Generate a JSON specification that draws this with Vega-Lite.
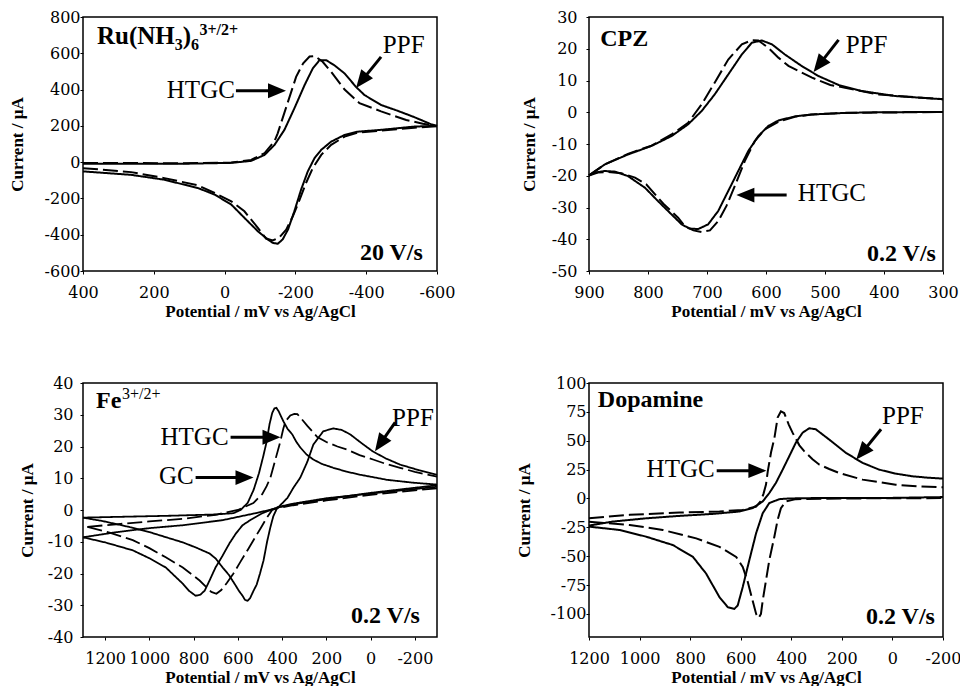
{
"$schema":"https://vega.github.io/schema/vega-lite/v6.json",
"background":"white",
"padding":{"left":7,"top":8,"right":0,"bottom":0},
"columns":2,
"spacing":{"row":112,"column":152},
"bounds":"flush",
"config":{"font":"Liberation Serif","view":{"stroke":"black","strokeWidth":1.5},
"axis":{"domain":false,"grid":false,"tickColor":"black","tickSize":3,"labelColor":"black","labelFont":"DejaVu Serif","labelFontSize":16,"titleFont":"Liberation Serif","titleFontSize":17,"titleFontWeight":"bold","titleColor":"black","labelFlush":false,"labelOverlap":false},
"axisX":{"labelPadding":10,"titlePadding":3}},
"datasets":{
"ru":[
{"curve":"PPF","branch":"f","E":400,"I":-9},{"curve":"PPF","branch":"f","E":264,"I":-9},{"curve":"PPF","branch":"f","E":122,"I":-9},{"curve":"PPF","branch":"f","E":-19,"I":-4},{"curve":"PPF","branch":"f","E":-75,"I":7},{"curve":"PPF","branch":"f","E":-113,"I":40},{"curve":"PPF","branch":"f","E":-141,"I":95},{"curve":"PPF","branch":"f","E":-169,"I":178},{"curve":"PPF","branch":"f","E":-197,"I":296},{"curve":"PPF","branch":"f","E":-226,"I":425},{"curve":"PPF","branch":"f","E":-249,"I":516},{"curve":"PPF","branch":"f","E":-268,"I":562},{"curve":"PPF","branch":"f","E":-287,"I":562},{"curve":"PPF","branch":"f","E":-310,"I":534},{"curve":"PPF","branch":"f","E":-339,"I":489},{"curve":"PPF","branch":"f","E":-371,"I":415},{"curve":"PPF","branch":"f","E":-395,"I":370},{"curve":"PPF","branch":"f","E":-442,"I":315},{"curve":"PPF","branch":"f","E":-489,"I":283},{"curve":"PPF","branch":"f","E":-536,"I":248},{"curve":"PPF","branch":"f","E":-583,"I":209},{"curve":"PPF","branch":"f","E":-600,"I":200},
{"curve":"PPF","branch":"r","E":-600,"I":200},{"curve":"PPF","branch":"r","E":-536,"I":196},{"curve":"PPF","branch":"r","E":-442,"I":178},{"curve":"PPF","branch":"r","E":-376,"I":168},{"curve":"PPF","branch":"r","E":-339,"I":150},{"curve":"PPF","branch":"r","E":-301,"I":113},{"curve":"PPF","branch":"r","E":-273,"I":68},{"curve":"PPF","branch":"r","E":-254,"I":22},{"curve":"PPF","branch":"r","E":-235,"I":-51},{"curve":"PPF","branch":"r","E":-216,"I":-152},{"curve":"PPF","branch":"r","E":-197,"I":-271},{"curve":"PPF","branch":"r","E":-179,"I":-372},{"curve":"PPF","branch":"r","E":-164,"I":-426},{"curve":"PPF","branch":"r","E":-150,"I":-450},{"curve":"PPF","branch":"r","E":-136,"I":-445},{"curve":"PPF","branch":"r","E":-122,"I":-426},{"curve":"PPF","branch":"r","E":-94,"I":-381},{"curve":"PPF","branch":"r","E":-56,"I":-307},{"curve":"PPF","branch":"r","E":-19,"I":-234},{"curve":"PPF","branch":"r","E":28,"I":-179},{"curve":"PPF","branch":"r","E":75,"I":-143},{"curve":"PPF","branch":"r","E":170,"I":-97},{"curve":"PPF","branch":"r","E":264,"I":-70},{"curve":"PPF","branch":"r","E":400,"I":-51},
{"curve":"HTGC","branch":"f","E":400,"I":-5},{"curve":"HTGC","branch":"f","E":264,"I":-5},{"curve":"HTGC","branch":"f","E":122,"I":-6},{"curve":"HTGC","branch":"f","E":-19,"I":-2},{"curve":"HTGC","branch":"f","E":-75,"I":12},{"curve":"HTGC","branch":"f","E":-113,"I":50},{"curve":"HTGC","branch":"f","E":-141,"I":115},{"curve":"HTGC","branch":"f","E":-150,"I":159},{"curve":"HTGC","branch":"f","E":-176,"I":315},{"curve":"HTGC","branch":"f","E":-202,"I":470},{"curve":"HTGC","branch":"f","E":-222,"I":545},{"curve":"HTGC","branch":"f","E":-240,"I":582},{"curve":"HTGC","branch":"f","E":-255,"I":585},{"curve":"HTGC","branch":"f","E":-277,"I":553},{"curve":"HTGC","branch":"f","E":-300,"I":500},{"curve":"HTGC","branch":"f","E":-339,"I":400},{"curve":"HTGC","branch":"f","E":-381,"I":325},{"curve":"HTGC","branch":"f","E":-442,"I":280},{"curve":"HTGC","branch":"f","E":-513,"I":232},{"curve":"HTGC","branch":"f","E":-560,"I":212},{"curve":"HTGC","branch":"f","E":-600,"I":198},
{"curve":"HTGC","branch":"r","E":-600,"I":198},{"curve":"HTGC","branch":"r","E":-536,"I":190},{"curve":"HTGC","branch":"r","E":-442,"I":174},{"curve":"HTGC","branch":"r","E":-376,"I":163},{"curve":"HTGC","branch":"r","E":-339,"I":141},{"curve":"HTGC","branch":"r","E":-301,"I":95},{"curve":"HTGC","branch":"r","E":-273,"I":40},{"curve":"HTGC","branch":"r","E":-249,"I":-33},{"curve":"HTGC","branch":"r","E":-230,"I":-115},{"curve":"HTGC","branch":"r","E":-212,"I":-207},{"curve":"HTGC","branch":"r","E":-193,"I":-298},{"curve":"HTGC","branch":"r","E":-174,"I":-372},{"curve":"HTGC","branch":"r","E":-155,"I":-414},{"curve":"HTGC","branch":"r","E":-136,"I":-432},{"curve":"HTGC","branch":"r","E":-117,"I":-421},{"curve":"HTGC","branch":"r","E":-94,"I":-362},{"curve":"HTGC","branch":"r","E":-56,"I":-271},{"curve":"HTGC","branch":"r","E":-19,"I":-216},{"curve":"HTGC","branch":"r","E":28,"I":-170},{"curve":"HTGC","branch":"r","E":75,"I":-128},{"curve":"HTGC","branch":"r","E":170,"I":-88},{"curve":"HTGC","branch":"r","E":264,"I":-55},{"curve":"HTGC","branch":"r","E":400,"I":-33}
],
"cpz":[
{"curve":"PPF","branch":"f","E":900,"I":-19.9},{"curve":"PPF","branch":"f","E":873,"I":-16.4},{"curve":"PPF","branch":"f","E":834,"I":-13.3},{"curve":"PPF","branch":"f","E":794,"I":-10.6},{"curve":"PPF","branch":"f","E":760,"I":-7.5},{"curve":"PPF","branch":"f","E":732,"I":-3.8},{"curve":"PPF","branch":"f","E":709,"I":0.4},{"curve":"PPF","branch":"f","E":687,"I":5.6},{"curve":"PPF","branch":"f","E":664,"I":11.9},{"curve":"PPF","branch":"f","E":641,"I":18.2},{"curve":"PPF","branch":"f","E":624,"I":21.9},{"curve":"PPF","branch":"f","E":607,"I":22.6},{"curve":"PPF","branch":"f","E":590,"I":21.4},{"curve":"PPF","branch":"f","E":568,"I":18.2},{"curve":"PPF","branch":"f","E":539,"I":14.5},{"curve":"PPF","branch":"f","E":511,"I":11.4},{"curve":"PPF","branch":"f","E":477,"I":8.6},{"curve":"PPF","branch":"f","E":438,"I":6.7},{"curve":"PPF","branch":"f","E":381,"I":5.1},{"curve":"PPF","branch":"f","E":300,"I":4.1},
{"curve":"PPF","branch":"r","E":300,"I":0.1},{"curve":"PPF","branch":"r","E":409,"I":0},{"curve":"PPF","branch":"r","E":466,"I":-0.2},{"curve":"PPF","branch":"r","E":522,"I":-0.7},{"curve":"PPF","branch":"r","E":551,"I":-1.3},{"curve":"PPF","branch":"r","E":579,"I":-2.6},{"curve":"PPF","branch":"r","E":596,"I":-4.3},{"curve":"PPF","branch":"r","E":613,"I":-7.5},{"curve":"PPF","branch":"r","E":630,"I":-12.2},{"curve":"PPF","branch":"r","E":647,"I":-18.5},{"curve":"PPF","branch":"r","E":664,"I":-24.8},{"curve":"PPF","branch":"r","E":681,"I":-31.1},{"curve":"PPF","branch":"r","E":698,"I":-35.3},{"curve":"PPF","branch":"r","E":715,"I":-36.8},{"curve":"PPF","branch":"r","E":730,"I":-36.6},{"curve":"PPF","branch":"r","E":743,"I":-35.3},{"curve":"PPF","branch":"r","E":760,"I":-32.2},{"curve":"PPF","branch":"r","E":783,"I":-28.0},{"curve":"PPF","branch":"r","E":805,"I":-23.8},{"curve":"PPF","branch":"r","E":834,"I":-20.1},{"curve":"PPF","branch":"r","E":856,"I":-18.7},{"curve":"PPF","branch":"r","E":873,"I":-18.5},{"curve":"PPF","branch":"r","E":890,"I":-19.0},{"curve":"PPF","branch":"r","E":900,"I":-19.9},
{"curve":"HTGC","branch":"f","E":900,"I":-19.9},{"curve":"HTGC","branch":"f","E":873,"I":-16.4},{"curve":"HTGC","branch":"f","E":834,"I":-13.1},{"curve":"HTGC","branch":"f","E":794,"I":-10.5},{"curve":"HTGC","branch":"f","E":760,"I":-7.0},{"curve":"HTGC","branch":"f","E":732,"I":-3.3},{"curve":"HTGC","branch":"f","E":709,"I":2.5},{"curve":"HTGC","branch":"f","E":687,"I":9.3},{"curve":"HTGC","branch":"f","E":664,"I":16.6},{"curve":"HTGC","branch":"f","E":641,"I":21.4},{"curve":"HTGC","branch":"f","E":624,"I":22.7},{"curve":"HTGC","branch":"f","E":613,"I":22.6},{"curve":"HTGC","branch":"f","E":596,"I":20.3},{"curve":"HTGC","branch":"f","E":579,"I":17.2},{"curve":"HTGC","branch":"f","E":562,"I":14.6},{"curve":"HTGC","branch":"f","E":522,"I":10.9},{"curve":"HTGC","branch":"f","E":491,"I":8.6},{"curve":"HTGC","branch":"f","E":466,"I":7.7},{"curve":"HTGC","branch":"f","E":409,"I":5.6},{"curve":"HTGC","branch":"f","E":300,"I":4.1},
{"curve":"HTGC","branch":"r","E":300,"I":0.1},{"curve":"HTGC","branch":"r","E":466,"I":-0.2},{"curve":"HTGC","branch":"r","E":522,"I":-0.7},{"curve":"HTGC","branch":"r","E":551,"I":-1.4},{"curve":"HTGC","branch":"r","E":579,"I":-3.0},{"curve":"HTGC","branch":"r","E":602,"I":-5.4},{"curve":"HTGC","branch":"r","E":619,"I":-9.1},{"curve":"HTGC","branch":"r","E":636,"I":-15.4},{"curve":"HTGC","branch":"r","E":653,"I":-23.3},{"curve":"HTGC","branch":"r","E":667,"I":-29.5},{"curve":"HTGC","branch":"r","E":681,"I":-34.3},{"curve":"HTGC","branch":"r","E":695,"I":-37.2},{"curve":"HTGC","branch":"r","E":709,"I":-37.7},{"curve":"HTGC","branch":"r","E":723,"I":-37.2},{"curve":"HTGC","branch":"r","E":738,"I":-35.8},{"curve":"HTGC","branch":"r","E":749,"I":-33.2},{"curve":"HTGC","branch":"r","E":774,"I":-28.8},{"curve":"HTGC","branch":"r","E":803,"I":-22.7},{"curve":"HTGC","branch":"r","E":822,"I":-20.6},{"curve":"HTGC","branch":"r","E":845,"I":-19.2},{"curve":"HTGC","branch":"r","E":868,"I":-18.8},{"curve":"HTGC","branch":"r","E":885,"I":-19.0},{"curve":"HTGC","branch":"r","E":900,"I":-19.9}
],
"fe":[
{"curve":"PPF","branch":"f","E":1300,"I":-8.6},{"curve":"PPF","branch":"f","E":1151,"I":-7.0},{"curve":"PPF","branch":"f","E":998,"I":-5.7},{"curve":"PPF","branch":"f","E":849,"I":-4.8},{"curve":"PPF","branch":"f","E":669,"I":-3.2},{"curve":"PPF","branch":"f","E":520,"I":-1.0},{"curve":"PPF","branch":"f","E":421,"I":0.6},{"curve":"PPF","branch":"f","E":376,"I":3.8},{"curve":"PPF","branch":"f","E":349,"I":7.0},{"curve":"PPF","branch":"f","E":318,"I":10.2},{"curve":"PPF","branch":"f","E":286,"I":15.2},{"curve":"PPF","branch":"f","E":259,"I":20.6},{"curve":"PPF","branch":"f","E":214,"I":24.8},{"curve":"PPF","branch":"f","E":169,"I":25.7},{"curve":"PPF","branch":"f","E":130,"I":25.2},{"curve":"PPF","branch":"f","E":92,"I":23.8},{"curve":"PPF","branch":"f","E":40,"I":21},{"curve":"PPF","branch":"f","E":-11,"I":18.4},{"curve":"PPF","branch":"f","E":-70,"I":16.2},{"curve":"PPF","branch":"f","E":-133,"I":14.3},{"curve":"PPF","branch":"f","E":-220,"I":12.5},{"curve":"PPF","branch":"f","E":-300,"I":11.1},
{"curve":"PPF","branch":"r","E":-300,"I":7.8},{"curve":"PPF","branch":"r","E":-200,"I":7.0},{"curve":"PPF","branch":"r","E":0,"I":5.4},{"curve":"PPF","branch":"r","E":200,"I":3.4},{"curve":"PPF","branch":"r","E":350,"I":1.8},{"curve":"PPF","branch":"r","E":430,"I":0.6},{"curve":"PPF","branch":"r","E":489,"I":-1.0},{"curve":"PPF","branch":"r","E":540,"I":-3},{"curve":"PPF","branch":"r","E":579,"I":-4.8},{"curve":"PPF","branch":"r","E":610,"I":-7.5},{"curve":"PPF","branch":"r","E":638,"I":-10.5},{"curve":"PPF","branch":"r","E":670,"I":-14.5},{"curve":"PPF","branch":"r","E":701,"I":-18.1},{"curve":"PPF","branch":"r","E":730,"I":-22.5},{"curve":"PPF","branch":"r","E":750,"I":-25.4},{"curve":"PPF","branch":"r","E":770,"I":-26.7},{"curve":"PPF","branch":"r","E":791,"I":-27},{"curve":"PPF","branch":"r","E":820,"I":-25.5},{"curve":"PPF","branch":"r","E":849,"I":-23.2},{"curve":"PPF","branch":"r","E":926,"I":-18.1},{"curve":"PPF","branch":"r","E":1000,"I":-15.2},{"curve":"PPF","branch":"r","E":1075,"I":-12.7},{"curve":"PPF","branch":"r","E":1200,"I":-10.2},{"curve":"PPF","branch":"r","E":1300,"I":-8.6},
{"curve":"HTGC","branch":"f","E":1280,"I":-5.3},{"curve":"HTGC","branch":"f","E":1150,"I":-4.5},{"curve":"HTGC","branch":"f","E":1000,"I":-3.6},{"curve":"HTGC","branch":"f","E":850,"I":-2.8},{"curve":"HTGC","branch":"f","E":700,"I":-1.5},{"curve":"HTGC","branch":"f","E":600,"I":0},{"curve":"HTGC","branch":"f","E":530,"I":2.2},{"curve":"HTGC","branch":"f","E":490,"I":5},{"curve":"HTGC","branch":"f","E":470,"I":7.5},{"curve":"HTGC","branch":"f","E":453,"I":10.2},{"curve":"HTGC","branch":"f","E":430,"I":16},{"curve":"HTGC","branch":"f","E":408,"I":21.6},{"curve":"HTGC","branch":"f","E":395,"I":25.5},{"curve":"HTGC","branch":"f","E":385,"I":27.9},{"curve":"HTGC","branch":"f","E":363,"I":29.8},{"curve":"HTGC","branch":"f","E":345,"I":30.3},{"curve":"HTGC","branch":"f","E":331,"I":30.2},{"curve":"HTGC","branch":"f","E":310,"I":28.5},{"curve":"HTGC","branch":"f","E":286,"I":26.5},{"curve":"HTGC","branch":"f","E":260,"I":24.5},{"curve":"HTGC","branch":"f","E":241,"I":23.0},{"curve":"HTGC","branch":"f","E":200,"I":21.4},{"curve":"HTGC","branch":"f","E":150,"I":20.0},{"curve":"HTGC","branch":"f","E":106,"I":19.0},{"curve":"HTGC","branch":"f","E":50,"I":17.3},{"curve":"HTGC","branch":"f","E":-11,"I":15.9},{"curve":"HTGC","branch":"f","E":-70,"I":14.5},{"curve":"HTGC","branch":"f","E":-133,"I":13.3},{"curve":"HTGC","branch":"f","E":-200,"I":12.0},{"curve":"HTGC","branch":"f","E":-300,"I":10.5},
{"curve":"HTGC","branch":"r","E":-300,"I":6.8},{"curve":"HTGC","branch":"r","E":-200,"I":6.2},{"curve":"HTGC","branch":"r","E":0,"I":4.8},{"curve":"HTGC","branch":"r","E":200,"I":3.0},{"curve":"HTGC","branch":"r","E":350,"I":1.5},{"curve":"HTGC","branch":"r","E":420,"I":0.6},{"curve":"HTGC","branch":"r","E":445,"I":0},{"curve":"HTGC","branch":"r","E":470,"I":-2.5},{"curve":"HTGC","branch":"r","E":495,"I":-5.5},{"curve":"HTGC","branch":"r","E":525,"I":-9},{"curve":"HTGC","branch":"r","E":555,"I":-12.5},{"curve":"HTGC","branch":"r","E":590,"I":-16.5},{"curve":"HTGC","branch":"r","E":620,"I":-20},{"curve":"HTGC","branch":"r","E":650,"I":-23},{"curve":"HTGC","branch":"r","E":675,"I":-25.2},{"curve":"HTGC","branch":"r","E":697,"I":-26.4},{"curve":"HTGC","branch":"r","E":720,"I":-25.8},{"curve":"HTGC","branch":"r","E":773,"I":-22.2},{"curve":"HTGC","branch":"r","E":849,"I":-18.1},{"curve":"HTGC","branch":"r","E":926,"I":-14.9},{"curve":"HTGC","branch":"r","E":1000,"I":-12},{"curve":"HTGC","branch":"r","E":1075,"I":-9.5},{"curve":"HTGC","branch":"r","E":1180,"I":-7.1},{"curve":"HTGC","branch":"r","E":1280,"I":-5.3},
{"curve":"GC","branch":"f","E":1300,"I":-2.4},{"curve":"GC","branch":"f","E":1100,"I":-2.1},{"curve":"GC","branch":"f","E":900,"I":-1.8},{"curve":"GC","branch":"f","E":700,"I":-1.4},{"curve":"GC","branch":"f","E":620,"I":-1.0},{"curve":"GC","branch":"f","E":588,"I":0},{"curve":"GC","branch":"f","E":556,"I":2.2},{"curve":"GC","branch":"f","E":529,"I":6.3},{"curve":"GC","branch":"f","E":505,"I":11.5},{"curve":"GC","branch":"f","E":485,"I":17.0},{"curve":"GC","branch":"f","E":470,"I":21.5},{"curve":"GC","branch":"f","E":457,"I":27.0},{"curve":"GC","branch":"f","E":445,"I":30.5},{"curve":"GC","branch":"f","E":435,"I":32.0},{"curve":"GC","branch":"f","E":426,"I":32.2},{"curve":"GC","branch":"f","E":415,"I":31.0},{"curve":"GC","branch":"f","E":405,"I":29.5},{"curve":"GC","branch":"f","E":394,"I":27.9},{"curve":"GC","branch":"f","E":375,"I":25.5},{"curve":"GC","branch":"f","E":354,"I":23.8},{"curve":"GC","branch":"f","E":336,"I":21.5},{"curve":"GC","branch":"f","E":318,"I":19.7},{"curve":"GC","branch":"f","E":290,"I":17.5},{"curve":"GC","branch":"f","E":259,"I":15.9},{"curve":"GC","branch":"f","E":220,"I":14.5},{"curve":"GC","branch":"f","E":169,"I":13.3},{"curve":"GC","branch":"f","E":110,"I":12.1},{"curve":"GC","branch":"f","E":47,"I":11.1},{"curve":"GC","branch":"f","E":-75,"I":9.5},{"curve":"GC","branch":"f","E":-192,"I":8.6},{"curve":"GC","branch":"f","E":-300,"I":8.0},
{"curve":"GC","branch":"r","E":-300,"I":7.3},{"curve":"GC","branch":"r","E":-200,"I":6.6},{"curve":"GC","branch":"r","E":0,"I":5.2},{"curve":"GC","branch":"r","E":200,"I":3.7},{"curve":"GC","branch":"r","E":350,"I":2.0},{"curve":"GC","branch":"r","E":421,"I":0.9},{"curve":"GC","branch":"r","E":440,"I":-2.0},{"curve":"GC","branch":"r","E":453,"I":-5.4},{"curve":"GC","branch":"r","E":468,"I":-10},{"curve":"GC","branch":"r","E":484,"I":-15.9},{"curve":"GC","branch":"r","E":500,"I":-20},{"curve":"GC","branch":"r","E":515,"I":-23.5},{"curve":"GC","branch":"r","E":529,"I":-25.4},{"curve":"GC","branch":"r","E":545,"I":-27.8},{"curve":"GC","branch":"r","E":556,"I":-28.6},{"curve":"GC","branch":"r","E":568,"I":-28.3},{"curve":"GC","branch":"r","E":579,"I":-27.0},{"curve":"GC","branch":"r","E":595,"I":-25.5},{"curve":"GC","branch":"r","E":610,"I":-23.8},{"curve":"GC","branch":"r","E":640,"I":-20.5},{"curve":"GC","branch":"r","E":669,"I":-18.1},{"curve":"GC","branch":"r","E":700,"I":-15.3},{"curve":"GC","branch":"r","E":728,"I":-13.7},{"curve":"GC","branch":"r","E":790,"I":-11.8},{"curve":"GC","branch":"r","E":849,"I":-10.2},{"curve":"GC","branch":"r","E":998,"I":-7.0},{"curve":"GC","branch":"r","E":1100,"I":-5.2},{"curve":"GC","branch":"r","E":1210,"I":-3.5},{"curve":"GC","branch":"r","E":1300,"I":-2.4}
],
"dopamine":[
{"curve":"PPF","branch":"f","E":1200,"I":-23.5},{"curve":"PPF","branch":"f","E":1105,"I":-20},{"curve":"PPF","branch":"f","E":974,"I":-17.2},{"curve":"PPF","branch":"f","E":842,"I":-15.1},{"curve":"PPF","branch":"f","E":711,"I":-13.4},{"curve":"PPF","branch":"f","E":605,"I":-11.3},{"curve":"PPF","branch":"f","E":553,"I":-8.4},{"curve":"PPF","branch":"f","E":513,"I":-2.6},{"curve":"PPF","branch":"f","E":487,"I":4.7},{"curve":"PPF","branch":"f","E":461,"I":13.4},{"curve":"PPF","branch":"f","E":434,"I":25},{"curve":"PPF","branch":"f","E":408,"I":36.6},{"curve":"PPF","branch":"f","E":382,"I":48.3},{"curve":"PPF","branch":"f","E":355,"I":57},{"curve":"PPF","branch":"f","E":329,"I":60.8},{"curve":"PPF","branch":"f","E":303,"I":59.9},{"curve":"PPF","branch":"f","E":250,"I":51},{"curve":"PPF","branch":"f","E":184,"I":39.5},{"curve":"PPF","branch":"f","E":118,"I":30.8},{"curve":"PPF","branch":"f","E":53,"I":25},{"curve":"PPF","branch":"f","E":-13,"I":21.5},{"curve":"PPF","branch":"f","E":-79,"I":19.2},{"curve":"PPF","branch":"f","E":-140,"I":18},{"curve":"PPF","branch":"f","E":-200,"I":17.2},
{"curve":"PPF","branch":"r","E":-200,"I":1.2},{"curve":"PPF","branch":"r","E":53,"I":0.3},{"curve":"PPF","branch":"r","E":316,"I":0.3},{"curve":"PPF","branch":"r","E":408,"I":0},{"curve":"PPF","branch":"r","E":447,"I":-0.6},{"curve":"PPF","branch":"r","E":487,"I":-4},{"curve":"PPF","branch":"r","E":513,"I":-12.8},{"curve":"PPF","branch":"r","E":539,"I":-30},{"curve":"PPF","branch":"r","E":566,"I":-53.5},{"curve":"PPF","branch":"r","E":592,"I":-76.7},{"curve":"PPF","branch":"r","E":612,"I":-92.7},{"curve":"PPF","branch":"r","E":625,"I":-95.6},{"curve":"PPF","branch":"r","E":651,"I":-94.2},{"curve":"PPF","branch":"r","E":684,"I":-85.5},{"curve":"PPF","branch":"r","E":737,"I":-65},{"curve":"PPF","branch":"r","E":789,"I":-50.6},{"curve":"PPF","branch":"r","E":868,"I":-40.4},{"curve":"PPF","branch":"r","E":974,"I":-33.1},{"curve":"PPF","branch":"r","E":1079,"I":-27.3},{"curve":"PPF","branch":"r","E":1200,"I":-24.4},
{"curve":"HTGC","branch":"f","E":1200,"I":-17.2},{"curve":"HTGC","branch":"f","E":1039,"I":-14.2},{"curve":"HTGC","branch":"f","E":842,"I":-12.2},{"curve":"HTGC","branch":"f","E":684,"I":-11.3},{"curve":"HTGC","branch":"f","E":592,"I":-9.9},{"curve":"HTGC","branch":"f","E":539,"I":-7},{"curve":"HTGC","branch":"f","E":520,"I":-2},{"curve":"HTGC","branch":"f","E":510,"I":4},{"curve":"HTGC","branch":"f","E":500,"I":12},{"curve":"HTGC","branch":"f","E":493,"I":23.5},{"curve":"HTGC","branch":"f","E":480,"I":40},{"curve":"HTGC","branch":"f","E":467,"I":52},{"curve":"HTGC","branch":"f","E":454,"I":70},{"curve":"HTGC","branch":"f","E":441,"I":75.5},{"curve":"HTGC","branch":"f","E":428,"I":74},{"curve":"HTGC","branch":"f","E":410,"I":64},{"curve":"HTGC","branch":"f","E":395,"I":57},{"curve":"HTGC","branch":"f","E":368,"I":46},{"curve":"HTGC","branch":"f","E":349,"I":41},{"curve":"HTGC","branch":"f","E":316,"I":34},{"curve":"HTGC","branch":"f","E":290,"I":29.4},{"curve":"HTGC","branch":"f","E":250,"I":25.5},{"curve":"HTGC","branch":"f","E":211,"I":22.1},{"curve":"HTGC","branch":"f","E":118,"I":16.3},{"curve":"HTGC","branch":"f","E":-13,"I":11.9},{"curve":"HTGC","branch":"f","E":-100,"I":10.5},{"curve":"HTGC","branch":"f","E":-200,"I":9.6},
{"curve":"HTGC","branch":"r","E":-200,"I":0.3},{"curve":"HTGC","branch":"r","E":200,"I":0},{"curve":"HTGC","branch":"r","E":382,"I":-0.6},{"curve":"HTGC","branch":"r","E":421,"I":-2.6},{"curve":"HTGC","branch":"r","E":441,"I":-8.4},{"curve":"HTGC","branch":"r","E":454,"I":-18.6},{"curve":"HTGC","branch":"r","E":467,"I":-33.1},{"curve":"HTGC","branch":"r","E":487,"I":-53.5},{"curve":"HTGC","branch":"r","E":500,"I":-70.9},{"curve":"HTGC","branch":"r","E":513,"I":-88.4},{"curve":"HTGC","branch":"r","E":520,"I":-100},{"curve":"HTGC","branch":"r","E":529,"I":-103.5},{"curve":"HTGC","branch":"r","E":539,"I":-100},{"curve":"HTGC","branch":"r","E":553,"I":-88.4},{"curve":"HTGC","branch":"r","E":572,"I":-72.4},{"curve":"HTGC","branch":"r","E":592,"I":-59.3},{"curve":"HTGC","branch":"r","E":618,"I":-50.6},{"curve":"HTGC","branch":"r","E":684,"I":-41.9},{"curve":"HTGC","branch":"r","E":776,"I":-34.6},{"curve":"HTGC","branch":"r","E":908,"I":-27.3},{"curve":"HTGC","branch":"r","E":1039,"I":-23},{"curve":"HTGC","branch":"r","E":1200,"I":-20.1}
]
},
"concat":[
{"width":354,"height":254,
"encoding":{
"x":{"field":"E","type":"quantitative","scale":{"domain":[-600,400],"reverse":true,"nice":false,"zero":false},"axis":{"title":"Potential / mV vs Ag/AgCl","values":[400,200,0,-200,-400,-600],"labelExpr":"'' + datum.value"}},
"y":{"field":"I","type":"quantitative","scale":{"domain":[-600,800],"nice":false,"zero":false},"axis":{"title":"Current / μA","values":[-600,-400,-200,0,200,400,600,800],"labelExpr":"'' + datum.value","labelPadding":0,"titlePadding":18}}},
"layer":[
{"data":{"name":"ru"},"mark":{"type":"line","color":"black","strokeWidth":2},"encoding":{"detail":[{"field":"curve","type":"nominal"},{"field":"branch","type":"nominal"}],"strokeDash":{"field":"curve","type":"nominal","scale":{"domain":["PPF","HTGC"],"range":[[1,0],[15,5]]},"legend":null}}},
{"data":{"values":[{"E":-32,"I":393,"E2":-148,"I2":393},{"E":-442,"I":580,"E2":-387,"I2":448}]},"mark":{"type":"rule","strokeWidth":3,"color":"black"},"encoding":{"x2":{"field":"E2"},"y2":{"field":"I2"}}},
{"data":{"values":[{"E":-148,"I":393}]},"mark":{"type":"point","shape":"M1,0L-1,-0.83L-1,0.83Z","size":324,"filled":true,"opacity":1,"color":"black","angle":0}},
{"data":{"values":[{"E":-387,"I":448}]},"mark":{"type":"point","shape":"M1,0L-1,-0.83L-1,0.83Z","size":324,"filled":true,"opacity":1,"color":"black","angle":128}},
{"data":{"values":[{"label":"PPF","E":-447,"I":602}]},"mark":{"type":"text","align":"left","baseline":"alphabetic","fontSize":25,"color":"black","font":"Liberation Serif"},"encoding":{"text":{"field":"label"}}},
{"data":{"values":[{"label":"HTGC","E":-29,"I":355}]},"mark":{"type":"text","align":"right","baseline":"alphabetic","fontSize":25,"color":"black","font":"Liberation Serif"},"encoding":{"text":{"field":"label"}}},
{"data":{"values":[{"label":"Ru(NH","E":360.5,"I":651.6},{"label":")","E":118,"I":651.6}]},"mark":{"type":"text","align":"left","baseline":"alphabetic","fontSize":25,"fontWeight":"bold","color":"black","font":"Liberation Serif"},"encoding":{"text":{"field":"label"}}},
{"data":{"values":[{"label":"3","E":140.7,"I":618.7},{"label":"6","E":94.6,"I":618.7},{"label":"3+/2+","E":70.9,"I":701}]},"mark":{"type":"text","align":"left","baseline":"alphabetic","fontSize":16,"fontWeight":"bold","color":"black","font":"Liberation Serif"},"encoding":{"text":{"field":"label"}}},
{"data":{"values":[{"label":"20 V/s","E":-560,"I":-541}]},"mark":{"type":"text","align":"right","baseline":"alphabetic","fontSize":24,"fontWeight":"bold","color":"black","font":"Liberation Serif"},"encoding":{"text":{"field":"label"}}}
]},
{"width":354,"height":254,
"encoding":{
"x":{"field":"E","type":"quantitative","scale":{"domain":[300,900],"reverse":true,"nice":false,"zero":false},"axis":{"title":"Potential / mV vs Ag/AgCl","values":[900,800,700,600,500,400,300],"labelExpr":"'' + datum.value"}},
"y":{"field":"I","type":"quantitative","scale":{"domain":[-50,30],"nice":false,"zero":false},"axis":{"title":"Current / μA","values":[-50,-40,-30,-20,-10,0,10,20,30],"labelExpr":"'' + datum.value","labelPadding":9,"titlePadding":13}}},
"layer":[
{"data":{"name":"cpz"},"mark":{"type":"line","color":"black","strokeWidth":2},"encoding":{"detail":[{"field":"curve","type":"nominal"},{"field":"branch","type":"nominal"}],"strokeDash":{"field":"curve","type":"nominal","scale":{"domain":["PPF","HTGC"],"range":[[1,0],[15,5]]},"legend":null}}},
{"data":{"values":[{"E":477,"I":22.8,"E2":510,"I2":14.9},{"E":565,"I":-26.1,"E2":635,"I2":-26.1}]},"mark":{"type":"rule","strokeWidth":3,"color":"black"},"encoding":{"x2":{"field":"E2"},"y2":{"field":"I2"}}},
{"data":{"values":[{"E":510,"I":14.9}]},"mark":{"type":"point","shape":"M1,0L-1,-0.83L-1,0.83Z","size":324,"filled":true,"opacity":1,"color":"black","angle":128}},
{"data":{"values":[{"E":635,"I":-26.1}]},"mark":{"type":"point","shape":"M1,0L-1,-0.83L-1,0.83Z","size":324,"filled":true,"opacity":1,"color":"black","angle":180}},
{"data":{"values":[{"label":"PPF","E":465,"I":18.7},{"label":"HTGC","E":546,"I":-28}]},"mark":{"type":"text","align":"left","baseline":"alphabetic","fontSize":25,"color":"black","font":"Liberation Serif"},"encoding":{"text":{"field":"label"}}},
{"data":{"values":[{"label":"CPZ","E":881,"I":20.9}]},"mark":{"type":"text","align":"left","baseline":"alphabetic","fontSize":24,"fontWeight":"bold","color":"black","font":"Liberation Serif"},"encoding":{"text":{"field":"label"}}},
{"data":{"values":[{"label":"0.2 V/s","E":312,"I":-46.9}]},"mark":{"type":"text","align":"right","baseline":"alphabetic","fontSize":24,"fontWeight":"bold","color":"black","font":"Liberation Serif"},"encoding":{"text":{"field":"label"}}}
]},
{"width":354,"height":254,
"encoding":{
"x":{"field":"E","type":"quantitative","scale":{"domain":[-300,1300],"reverse":true,"nice":false,"zero":false},"axis":{"title":"Potential / mV vs Ag/AgCl","values":[1200,1000,800,600,400,200,0,-200],"labelExpr":"'' + datum.value"}},
"y":{"field":"I","type":"quantitative","scale":{"domain":[-40,40],"nice":false,"zero":false},"axis":{"title":"Current / μA","values":[-40,-30,-20,-10,0,10,20,30,40],"labelExpr":"'' + datum.value","labelPadding":7,"titlePadding":11}}},
"layer":[
{"data":{"name":"fe"},"mark":{"type":"line","color":"black","strokeWidth":1.8},"encoding":{"detail":[{"field":"curve","type":"nominal"},{"field":"branch","type":"nominal"}],"strokeDash":{"field":"curve","type":"nominal","scale":{"domain":["PPF","HTGC","GC"],"range":[[1,0],[11,5],[14,4,2,4]]},"legend":null}}},
{"data":{"values":[{"E":-111,"I":27.6,"E2":-43,"I2":20.8},{"E":633,"I":22.9,"E2":448,"I2":22.9},{"E":791,"I":10.2,"E2":570,"I2":10.2}]},"mark":{"type":"rule","strokeWidth":3,"color":"black"},"encoding":{"x2":{"field":"E2"},"y2":{"field":"I2"}}},
{"data":{"values":[{"E":448,"I":22.9},{"E":570,"I":10.2}]},"mark":{"type":"point","shape":"M1,0L-1,-0.83L-1,0.83Z","size":324,"filled":true,"opacity":1,"color":"black","angle":0}},
{"data":{"values":[{"E":-43,"I":20.8}]},"mark":{"type":"point","shape":"M1,0L-1,-0.83L-1,0.83Z","size":324,"filled":true,"opacity":1,"color":"black","angle":125}},
{"data":{"values":[{"label":"PPF","E":-97,"I":26.3}]},"mark":{"type":"text","align":"left","baseline":"alphabetic","fontSize":25,"color":"black","font":"Liberation Serif"},"encoding":{"text":{"field":"label"}}},
{"data":{"values":[{"label":"HTGC","E":642,"I":20.6},{"label":"GC","E":800,"I":8.3}]},"mark":{"type":"text","align":"right","baseline":"alphabetic","fontSize":25,"color":"black","font":"Liberation Serif"},"encoding":{"text":{"field":"label"}}},
{"data":{"values":[{"label":"Fe","E":1241,"I":32.1}]},"mark":{"type":"text","align":"left","baseline":"alphabetic","fontSize":24,"fontWeight":"bold","color":"black","font":"Liberation Serif"},"encoding":{"text":{"field":"label"}}},
{"data":{"values":[{"label":"3+/2+","E":1124,"I":34.9}]},"mark":{"type":"text","align":"left","baseline":"alphabetic","fontSize":16,"color":"black","font":"Liberation Serif"},"encoding":{"text":{"field":"label"}}},
{"data":{"values":[{"label":"0.2 V/s","E":-223,"I":-35.6}]},"mark":{"type":"text","align":"right","baseline":"alphabetic","fontSize":24,"fontWeight":"bold","color":"black","font":"Liberation Serif"},"encoding":{"text":{"field":"label"}}}
]},
{"width":354,"height":254,
"encoding":{
"x":{"field":"E","type":"quantitative","scale":{"domain":[-200,1200],"reverse":true,"nice":false,"zero":false},"axis":{"title":"Potential / mV vs Ag/AgCl","values":[1200,1000,800,600,400,200,0,-200],"labelExpr":"'' + datum.value"}},
"y":{"field":"I","type":"quantitative","scale":{"domain":[-120,100],"nice":false,"zero":false},"axis":{"title":"Current / μA","values":[-100,-75,-50,-25,0,25,50,75,100],"labelExpr":"'' + datum.value","labelPadding":0,"titlePadding":17}}},
"layer":[
{"data":{"name":"dopamine"},"mark":{"type":"line","color":"black","strokeWidth":2},"encoding":{"detail":[{"field":"curve","type":"nominal"},{"field":"branch","type":"nominal"}],"strokeDash":{"field":"curve","type":"nominal","scale":{"domain":["PPF","HTGC"],"range":[[1,0],[20,7]]},"legend":null}}},
{"data":{"values":[{"E":45,"I":59.9,"E2":120,"I2":39.7},{"E":695,"I":24.1,"E2":534,"I2":24.1}]},"mark":{"type":"rule","strokeWidth":3,"color":"black"},"encoding":{"x2":{"field":"E2"},"y2":{"field":"I2"}}},
{"data":{"values":[{"E":534,"I":24.1}]},"mark":{"type":"point","shape":"M1,0L-1,-0.83L-1,0.83Z","size":324,"filled":true,"opacity":1,"color":"black","angle":0}},
{"data":{"values":[{"E":120,"I":39.7}]},"mark":{"type":"point","shape":"M1,0L-1,-0.83L-1,0.83Z","size":324,"filled":true,"opacity":1,"color":"black","angle":130}},
{"data":{"values":[{"label":"PPF","E":41,"I":64.2}]},"mark":{"type":"text","align":"left","baseline":"alphabetic","fontSize":25,"color":"black","font":"Liberation Serif"},"encoding":{"text":{"field":"label"}}},
{"data":{"values":[{"label":"HTGC","E":703,"I":18.9}]},"mark":{"type":"text","align":"right","baseline":"alphabetic","fontSize":25,"color":"black","font":"Liberation Serif"},"encoding":{"text":{"field":"label"}}},
{"data":{"values":[{"label":"Dopamine","E":1165,"I":79.1}]},"mark":{"type":"text","align":"left","baseline":"alphabetic","fontSize":24,"fontWeight":"bold","color":"black","font":"Liberation Serif"},"encoding":{"text":{"field":"label"}}},
{"data":{"values":[{"label":"0.2 V/s","E":-168,"I":-108.4}]},"mark":{"type":"text","align":"right","baseline":"alphabetic","fontSize":24,"fontWeight":"bold","color":"black","font":"Liberation Serif"},"encoding":{"text":{"field":"label"}}}
]}
]
}
